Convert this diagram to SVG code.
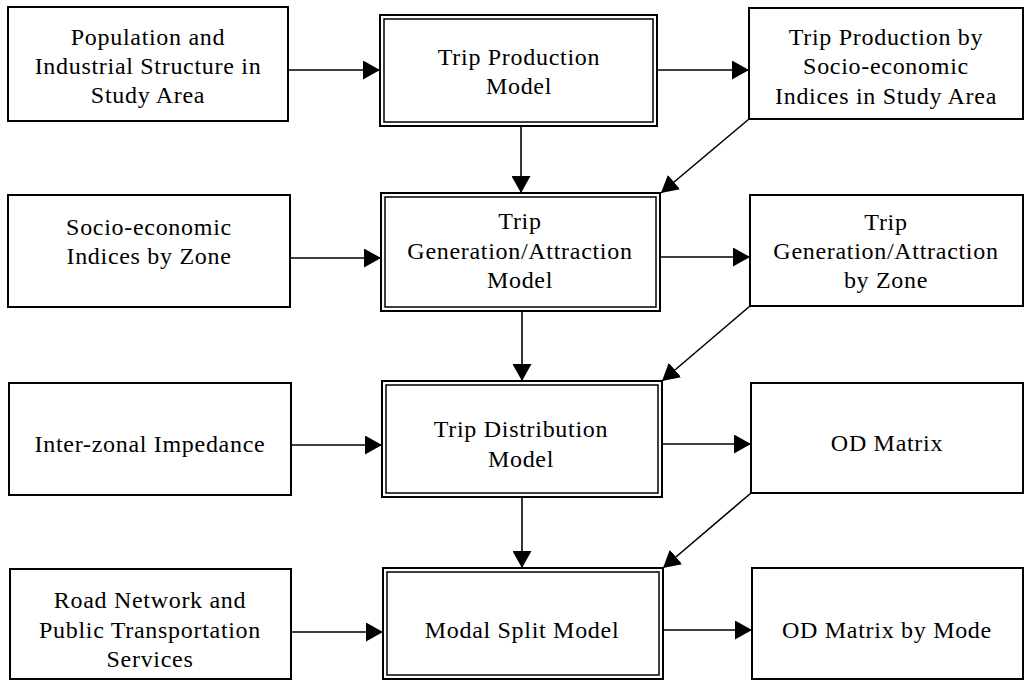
<svg xmlns="http://www.w3.org/2000/svg" width="1026" height="681" viewBox="0 0 1026 681">
<style>
.box{fill:#fff;stroke:#000;stroke-width:2}
.in{fill:none;stroke:#000;stroke-width:1.5}
.t{font-family:"Liberation Serif","Times New Roman",serif;font-size:24px;letter-spacing:0.7px;fill:#000;text-anchor:middle}
.c{stroke:#000;stroke-width:1.6;fill:none;marker-end:url(#ah)}
</style>
<defs>
<marker id="ah" markerUnits="userSpaceOnUse" markerWidth="18" markerHeight="19" refX="17" refY="9.5" orient="auto">
<path d="M0,0 L17,9.5 L0,19 Z" fill="#000"/>
</marker>
</defs>
<rect width="1026" height="681" fill="#fff"/>
<g id="connectors">
<line class="c" x1="288" y1="70" x2="380" y2="70"/>
<line class="c" x1="290" y1="258" x2="381" y2="258"/>
<line class="c" x1="291" y1="445" x2="382" y2="445"/>
<line class="c" x1="291" y1="632" x2="383" y2="632"/>
<line class="c" x1="657" y1="70" x2="749" y2="70"/>
<line class="c" x1="660" y1="257" x2="750" y2="257"/>
<line class="c" x1="662" y1="444" x2="751" y2="444"/>
<line class="c" x1="663" y1="630" x2="752" y2="630"/>
<line class="c" x1="521" y1="126" x2="521" y2="193"/>
<line class="c" x1="522" y1="311" x2="522" y2="381"/>
<line class="c" x1="522" y1="497" x2="522" y2="568"/>
<line class="c" x1="749" y1="119" x2="661" y2="193"/>
<line class="c" x1="750" y1="306" x2="662" y2="381"/>
<line class="c" x1="751" y1="493" x2="663" y2="568"/>
</g>
<g id="population">
<rect class="box" x="8" y="7" width="280" height="114"/>
<text class="t" x="148" y="45">Population and</text>
<text class="t" x="148" y="74">Industrial Structure in</text>
<text class="t" x="148" y="103">Study Area</text>
</g>
<g id="socio-zone">
<rect class="box" x="8" y="195" width="282" height="112"/>
<text class="t" x="149" y="235">Socio-economic</text>
<text class="t" x="149" y="264">Indices by Zone</text>
</g>
<g id="impedance">
<rect class="box" x="9" y="383" width="282" height="112"/>
<text class="t" x="150" y="452">Inter-zonal Impedance</text>
</g>
<g id="road-network">
<rect class="box" x="10" y="569" width="281" height="110"/>
<text class="t" x="150" y="608">Road Network and</text>
<text class="t" x="150" y="638">Public Transportation</text>
<text class="t" x="150" y="667">Services</text>
</g>
<g id="trip-production-model">
<rect class="box" x="380" y="15" width="277" height="111"/>
<rect class="in" x="384" y="19" width="269" height="103"/>
<text class="t" x="519" y="65">Trip Production</text>
<text class="t" x="519" y="94">Model</text>
</g>
<g id="trip-generation-model">
<rect class="box" x="381" y="193" width="279" height="118"/>
<rect class="in" x="385" y="197" width="271" height="110"/>
<text class="t" x="520" y="229">Trip</text>
<text class="t" x="520" y="259">Generation/Attraction</text>
<text class="t" x="520" y="288">Model</text>
</g>
<g id="trip-distribution-model">
<rect class="box" x="382" y="381" width="280" height="116"/>
<rect class="in" x="386" y="385" width="272" height="108"/>
<text class="t" x="521" y="437">Trip Distribution</text>
<text class="t" x="521" y="467">Model</text>
</g>
<g id="modal-split-model">
<rect class="box" x="383" y="568" width="280" height="111"/>
<rect class="in" x="387" y="572" width="272" height="103"/>
<text class="t" x="522" y="638">Modal Split Model</text>
</g>
<g id="trip-production-indices">
<rect class="box" x="749" y="8" width="274" height="111"/>
<text class="t" x="886" y="45">Trip Production by</text>
<text class="t" x="886" y="74">Socio-economic</text>
<text class="t" x="886" y="104">Indices in Study Area</text>
</g>
<g id="trip-generation-zone">
<rect class="box" x="750" y="195" width="273" height="111"/>
<text class="t" x="886" y="230">Trip</text>
<text class="t" x="886" y="259">Generation/Attraction</text>
<text class="t" x="886" y="288">by Zone</text>
</g>
<g id="od-matrix">
<rect class="box" x="751" y="383" width="272" height="110"/>
<text class="t" x="887" y="451">OD Matrix</text>
</g>
<g id="od-matrix-mode">
<rect class="box" x="752" y="568" width="271" height="111"/>
<text class="t" x="887" y="638">OD Matrix by Mode</text>
</g>
</svg>
